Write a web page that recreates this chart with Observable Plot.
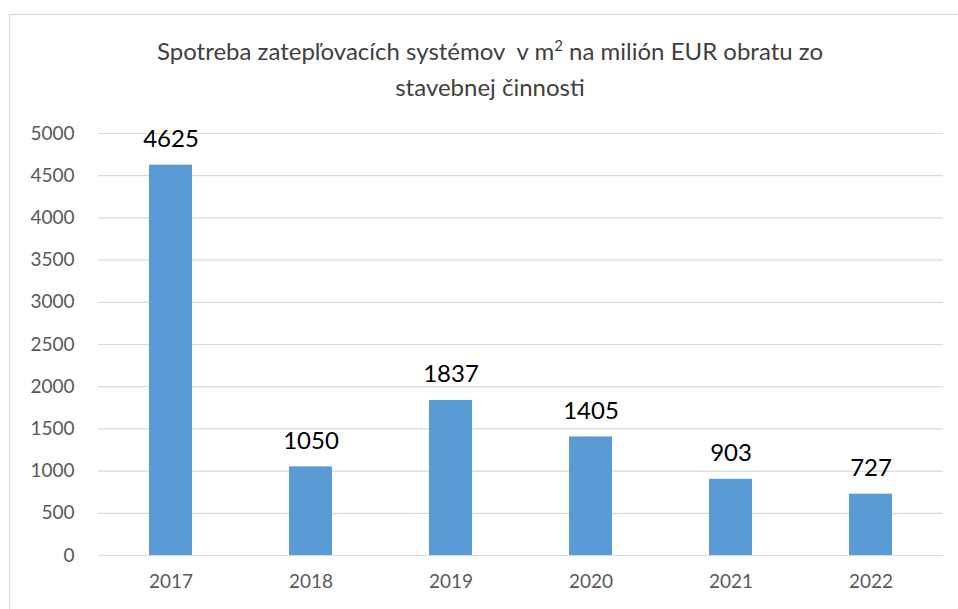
<!DOCTYPE html>
<html>
<head>
<meta charset="utf-8">
<script src="https://cdn.jsdelivr.net/npm/d3@7"></script>
<script src="https://cdn.jsdelivr.net/npm/@observablehq/plot@0.6"></script>
<style>
  html, body { margin: 0; padding: 0; background: #fff; overflow: hidden; }
  #wrap { position: relative; width: 958px; height: 609px; font-family: Lato, "Open Sans", sans-serif; }
  #frame { position: absolute; left: 9px; top: 14px; width: 980px; height: 640px; border: 1px solid #d9d9d9; box-sizing: border-box; }
  #title { position: absolute; left: 0; top: 33px; width: 980px; text-align: center; font-size: 24px; line-height: 36px; color: #404040; }
  #title sup { font-size: 15px; line-height: 0; vertical-align: 9px; }
  #chart { position: absolute; left: 0; top: 110px; }
</style>
</head>
<body>
<div id="wrap">
  <div id="frame"></div>
  <div id="title">Spotreba zatepľovacích systémov&nbsp; v m<sup>2</sup> na milión EUR obratu zo<br>stavebnej činnosti</div>
  <div id="chart"></div>
</div>
<script>
const years = ["2017", "2018", "2019", "2020", "2021", "2022"];
const values = [4625, 1050, 1837, 1405, 903, 727];
const yTicks = [0, 500, 1000, 1500, 2000, 2500, 3000, 3500, 4000, 4500, 5000];

const data = years.map((y, i) => ({year: y, value: values[i]}));

const plot = Plot.plot({
  width: 958,
  height: 499,
  marginTop: 23,
  marginBottom: 54,
  marginLeft: 98,
  marginRight: 15,
  style: {fontFamily: "Lato, 'Open Sans', sans-serif", background: "transparent"},
  x: {domain: years, paddingInner: 0.69, paddingOuter: 0.345, label: null},
  y: {domain: [0, 5000], label: null},
  marks: [
    Plot.gridY(yTicks, {stroke: "#d9d9d9", strokeOpacity: 1, strokeWidth: 1.2}),
    Plot.barY(data, {x: "year", y: "value", fill: "#5b9bd5"}),
    Plot.text(data, {x: "year", y: "value", text: d => String(d.value), lineAnchor: "bottom", dy: -18, fontSize: 24, fill: "#000"}),
    Plot.axisY({ticks: yTicks, tickFormat: d => String(d), tickSize: 0, tickPadding: 24, fontSize: 19, fill: "#595959", label: null}),
    Plot.axisX({tickSize: 0, tickPadding: 19, fontSize: 19, fill: "#595959", label: null})
  ]
});
document.getElementById("chart").appendChild(plot);
</script>
</body>
</html>
